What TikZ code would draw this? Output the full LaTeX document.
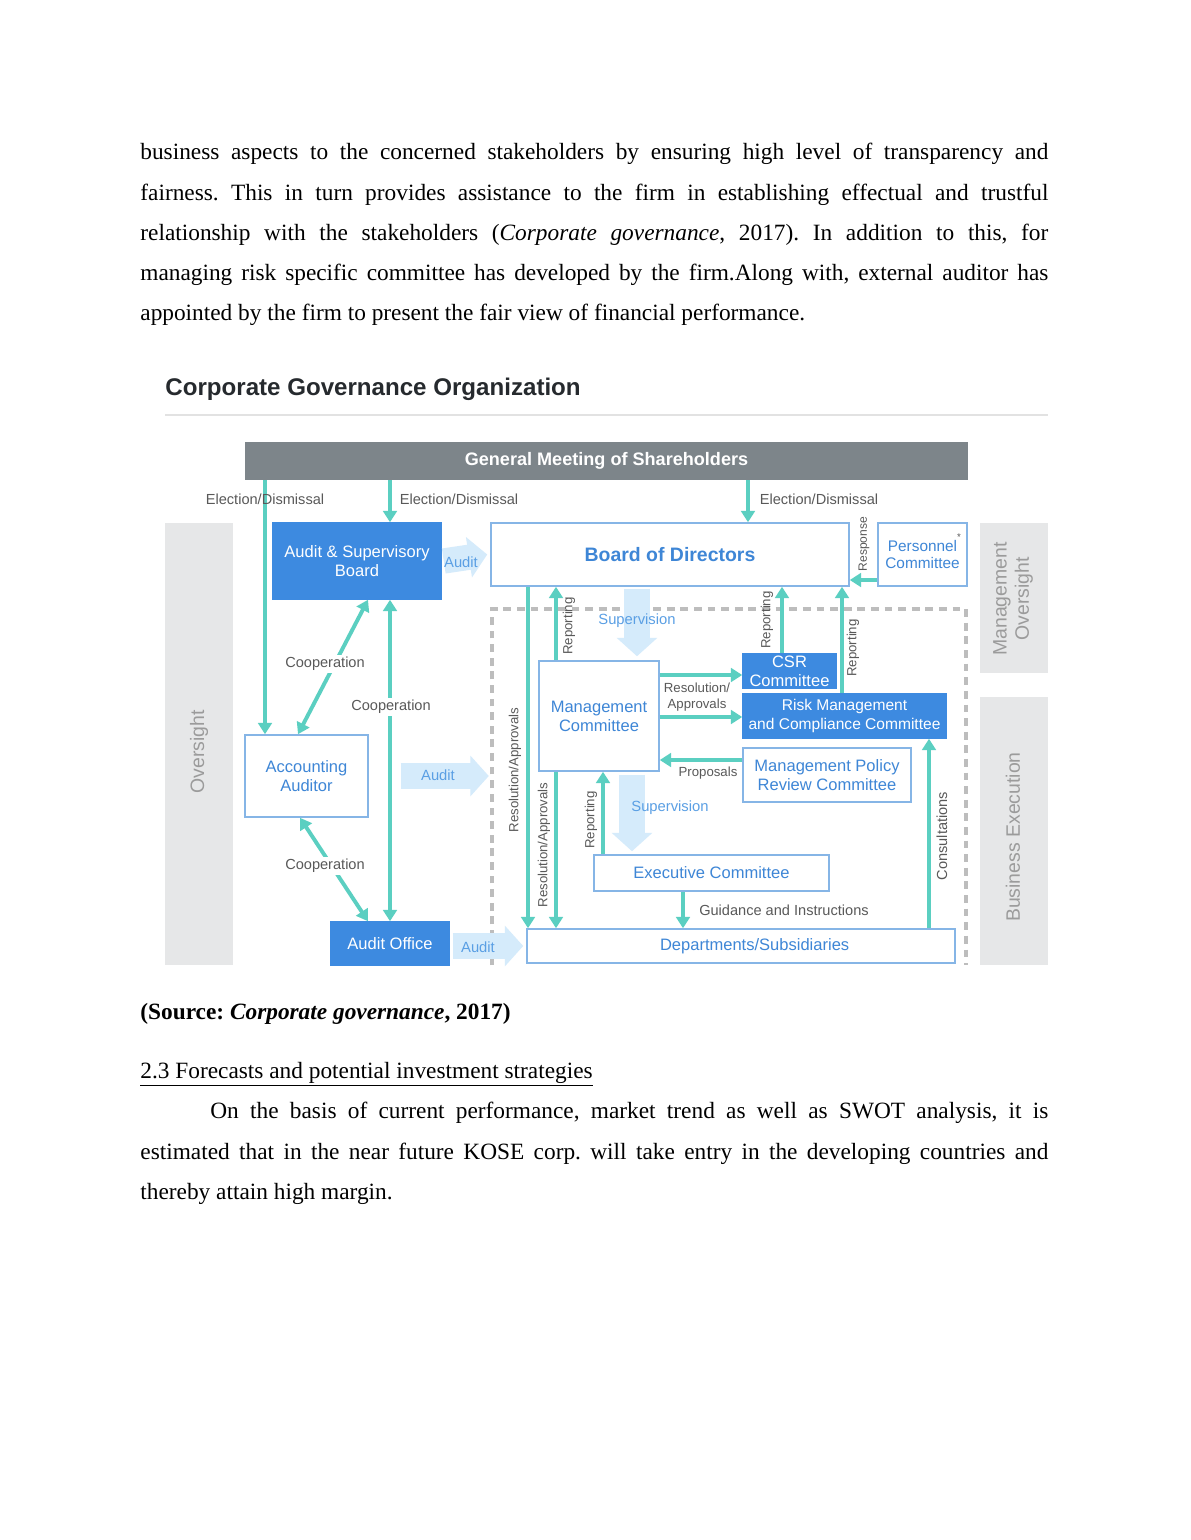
\documentclass[tikz,border=0pt]{standalone}
\usepackage{fontspec}
\setmainfont{Liberation Serif}
\setsansfont{Liberation Sans}
\usetikzlibrary{arrows.meta,positioning,calc}
\definecolor{cteal}{HTML}{5BCFC1}
\definecolor{cfill}{HTML}{3D8AE0}
\definecolor{cblue}{HTML}{3E86D6}
\definecolor{cline}{HTML}{86B5E6}
\definecolor{cpale}{HTML}{D5EBFB}
\definecolor{catxt}{HTML}{5A9FE4}
\definecolor{cbar}{HTML}{7D858A}
\definecolor{cpanel}{HTML}{E6E7E8}
\definecolor{cptext}{HTML}{9B9B9B}
\definecolor{cdash}{HTML}{BDBDBD}
\definecolor{clbl}{HTML}{595959}
\definecolor{crule}{HTML}{E2E2E2}
\definecolor{ctitle}{HTML}{262A2E}
\frenchspacing
\newcommand\fl[1]{\makebox[467pt][s]{#1}}
\tikzset{
  bodyl/.style={anchor=base west,inner sep=0pt,font=\fontsize{12}{14}\selectfont},
  sz/.style 2 args={minimum width={#1*0.5143pt},minimum height={#2*0.5143pt}},
  wbox/.style={draw=cline,fill=white,line width=0.8pt,text=cblue,align=center,inner sep=0pt,font=\sffamily\fontsize{8.5}{9.8}\selectfont},
  bbox/.style={wbox,draw=cfill,fill=cfill,text=white},
  panel/.style={fill=cpanel,inner sep=0pt},
  ptext/.style={rotate=90,text=cptext,align=center,font=\sffamily\fontsize{10}{11.5}\selectfont},
  ar/.style={draw=cteal,line width=2pt,>={Triangle[length=5.8pt,width=7pt]},->},
  fat/.style={draw=cpale,line width=13pt,>={Triangle[length=9.5pt,width=20.5pt]},->},
  lbl/.style={text=clbl,font=\sffamily\fontsize{7.5}{9}\selectfont,inner sep=1pt},
  sml/.style={text=clbl,font=\sffamily\fontsize{6.8}{8}\selectfont,inner sep=1pt},
  vlbl/.style={sml,rotate=90},
  alabel/.style={text=catxt,font=\sffamily\fontsize{7.6}{9}\selectfont,inner sep=0pt},
}
\begin{document}
\begin{tikzpicture}[x=0.5143pt,y=-0.5143pt]
  \fill[white] (0,0) rectangle (1190,1540);
  \useasboundingbox (0,0) rectangle (1190,1540);

  % text above the figure
  \node[bodyl] (l1) at (140,159) {\fl{business aspects to the concerned stakeholders by ensuring high level of transparency and}};
  \node[bodyl] (l2) at (140,200) {\fl{fairness. This in turn provides assistance to the firm in establishing effectual and trustful}};
  \node[bodyl] (l3) at (140,240) {\fl{relationship with the stakeholders (\textit{Corporate governance}, 2017). In addition to this, for}};
  \node[bodyl] (l4) at (140,280) {\fl{managing risk specific committee has developed by the firm.Along with, external auditor has}};
  \node[bodyl] (l5) at (140,320) {appointed by the firm to present the fair view of financial performance.};

  % title
  \node[anchor=base west,inner sep=0pt,text=ctitle,font=\sffamily\bfseries\fontsize{12.4}{14}\selectfont] (ttl) at (165,395) {Corporate Governance Organization};
  \draw[crule,line width=0.7pt] (165,415) -- (1048,415);

  % side panels
  \node[panel,sz={68}{442}] (ovs) at (199,744) {};
  \node[panel,sz={68}{150}] (mos) at (1014,598) {};
  \node[panel,sz={68}{268}] (bex) at (1014,831) {};
  \node[ptext] (ovst) at (199,752) {Oversight};
  \node[ptext] (most) at (1013,599) {Management\\Oversight};
  \node[ptext] (bext) at (1013,837) {Business Execution};

  % execution area
  \draw[cdash,line width=1.6pt,dash pattern=on 4pt off 3pt] (492,965) -- (492,609) -- (966,609) -- (966,965);

  % boxes
  \node[sz={723}{38},fill=cbar,inner sep=0pt,text=white,font=\sffamily\bfseries\fontsize{9.3}{11}\selectfont] (gms) at (606.5,461) {General Meeting of Shareholders};
  \node[bbox,sz={168}{76}] (asb) at (357,561) {Audit \& Supervisory\\Board};
  \node[wbox,sz={358}{63},font=\sffamily\bfseries\fontsize{10}{12}\selectfont] (bod) at (670,554.5) {Board of Directors};
  \node[wbox,sz={89}{63},font=\sffamily\fontsize{7.9}{9.2}\selectfont] (pers) at (922.5,554.5) {Personnel\\Committee};
  \node[text=clbl,inner sep=0pt,font=\sffamily\fontsize{5}{6}\selectfont] (ast) at (959,537) {*};
  \node[wbox,sz={123}{82}] (acc) at (306.5,776) {Accounting\\Auditor};
  \node[wbox,sz={120}{110}] (mc) at (599,716) {Management\\Committee};
  \node[bbox,sz={93}{34}] (csr) at (789.5,671) {CSR\\Committee};
  \node[bbox,sz={203}{44},font=\sffamily\fontsize{8}{9.6}\selectfont] (risk) at (844.5,716) {Risk Management\\and Compliance Committee};
  \node[wbox,sz={168}{54}] (mprc) at (827,775) {Management Policy\\Review Committee};
  \node[wbox,sz={235}{36}] (exe) at (711.5,873) {Executive Committee};
  \node[bbox,sz={118}{43}] (ao) at (390,943.5) {Audit Office};
  \node[wbox,sz={428}{34}] (dep) at (741,946) {\hspace*{14pt}Departments/Subsidiaries};

  % audit and supervision block arrows
  \draw[fat] ($(asb.east)+(2,0)$) -- ($(bod.west)+(-3,0)$);
  \draw[fat] ($(acc.east)+(32,0)$) -- ($(acc.east)+(120,0)$);
  \draw[fat] ($(ao.east |- dep.west)+(3,0)$) -- ($(dep.west)+(-3,0)$);
  \draw[fat] ($(637,0 |- bod.south)+(0,2)$) -- ($(637,0 |- mc.north)+(0,-4)$);
  \draw[fat] ($(632,0 |- mc.south)+(0,3)$) -- ($(632,0 |- exe.north)+(0,-3)$);
  \node[alabel] (au1) at (461,562) {Audit};
  \node[alabel] (au2) at (438,775) {Audit};
  \node[alabel] (au3) at (478,947) {Audit};
  \node[alabel] (sup1) at (637,621) {Supervision};
  \node[alabel] (sup2) at (670,808) {Supervision};

  % election
  \draw[ar] (265,0 |- gms.south) -- (265,0 |- acc.north);
  \draw[ar] (390,0 |- gms.south) -- (390,0 |- asb.north);
  \draw[ar] (748,0 |- gms.south) -- (748,0 |- bod.north);
  \node[lbl] (el1) at (265,499) {Election/Dismissal};
  \node[lbl] (el2) at (459,499) {Election/Dismissal};
  \node[lbl] (el3) at (819,499) {Election/Dismissal};

  % response
  \draw[ar] (pers.west |- 0,580) -- (bod.east |- 0,580);
  \node[vlbl,font=\sffamily\fontsize{6.2}{7}\selectfont] (resp) at (864,544) {Response};

  % reporting to the board
  \draw[ar] (556,0 |- mc.north) -- (556,0 |- bod.south);
  \draw[ar] (782,0 |- csr.north) -- (782,0 |- bod.south);
  \draw[ar] (842,0 |- risk.north) -- (842,0 |- bod.south);
  \node[vlbl] (rp1) at (569,626) {Reporting};
  \node[vlbl] (rp2) at (767,620) {Reporting};
  \node[vlbl] (rp3) at (853,648) {Reporting};

  % resolution / approvals
  \draw[ar] (528,0 |- bod.south) -- (528,0 |- dep.north);
  \draw[ar] (556,0 |- mc.south) -- (556,0 |- dep.north);
  \node[vlbl] (ra1) at (515,770) {Resolution/Approvals};
  \node[vlbl] (ra2) at (544,845) {Resolution/Approvals};

  % management committee
  \draw[ar] (mc.east |- 0,675) -- (csr.west |- 0,675);
  \draw[ar] (mc.east |- 0,717) -- (risk.west |- 0,717);
  \node[sml,align=center] (ra3) at (697,697) {Resolution/\\Approvals};
  \draw[ar] (mprc.west |- 0,760) -- (mc.east |- 0,760);
  \node[sml] (prop) at (708,773) {Proposals};

  % executive committee
  \draw[ar] (603,0 |- exe.north) -- (603,0 |- mc.south);
  \node[vlbl] (rp4) at (591,820) {Reporting};
  \draw[ar] (683,0 |- exe.south) -- (683,0 |- dep.north);
  \node[lbl] (gd) at (784,910) {Guidance and Instructions};
  \draw[ar] (929,0 |- dep.north) -- (929,0 |- risk.south);
  \node[lbl,rotate=90] (cons) at (942,836) {Consultations};

  % cooperation
  \draw[ar,<->] (368,0 |- asb.south) -- (298,0 |- acc.north);
  \draw[ar,<->] (390,0 |- asb.south) -- (390,0 |- ao.north);
  \draw[ar,<->] (300,0 |- acc.south) -- (368,0 |- ao.north);
  \node[lbl,fill=white] (co1) at (325,664) {Cooperation};
  \node[lbl,fill=white] (co2) at (391,707) {Cooperation};
  \node[lbl,fill=white] (co3) at (325,866) {Cooperation};

  % text below the figure
  \node[bodyl,font=\bfseries\fontsize{12}{14}\selectfont] (src) at (140,1019) {(Source: \textit{Corporate governance}, 2017)};
  \node[bodyl] (hd) at (140,1078) {\underline{2.3 Forecasts and potential investment strategies}};
  \node[bodyl] (p1) at (210,1118) {\makebox[431pt][s]{On the basis of current performance, market trend as well as SWOT analysis, it is}};
  \node[bodyl] (p2) at (140,1159) {\fl{estimated that in the near future KOSE corp. will take entry in the developing countries and}};
  \node[bodyl] (p3) at (140,1199) {thereby attain high margin.};
\end{tikzpicture}
\end{document}
